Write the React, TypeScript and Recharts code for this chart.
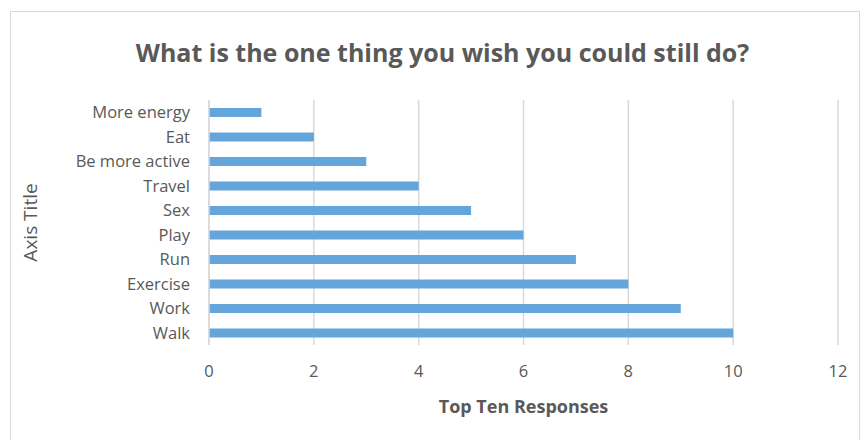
import { BarChart, Bar, XAxis, YAxis, CartesianGrid } from 'recharts';

// Responses, top to bottom as drawn
const responses = ['More energy', 'Eat', 'Be more active', 'Travel', 'Sex', 'Play', 'Run', 'Exercise', 'Work', 'Walk'];
const counts = [1, 2, 3, 4, 5, 6, 7, 8, 9, 10];
const xTicks = [0, 2, 4, 6, 8, 10, 12];

const data = responses.map((name, i) => ({ name, value: counts[i] }));

const FONT = '"Open Sans", "Noto Sans", sans-serif';
const TEXT = '#595959';

export default function App() {
  return (
    <div style={{ position: 'absolute', left: 0, top: 0, width: 863, height: 440, background: '#fff', fontFamily: FONT }}>
      {/* chart frame */}
      <div
        style={{
          position: 'absolute',
          left: 10,
          top: 11,
          width: 850,
          height: 440,
          border: '1.5px solid #d9d9d9',
          boxSizing: 'border-box',
        }}
      />
      <div
        style={{
          position: 'absolute',
          left: 11,
          top: 32,
          width: 863,
          textAlign: 'center',
          fontSize: 25,
          fontWeight: 700,
          color: TEXT,
          lineHeight: '40px',
        }}
      >
        What is the one thing you wish you could still do?
      </div>
      <div style={{ position: 'absolute', left: 0, top: 0 }}>
        <BarChart
          width={863}
          height={440}
          data={data}
          layout="vertical"
          margin={{ top: 100, right: 25, left: 0, bottom: 0 }}
          barCategoryGap={0}
        >
          <CartesianGrid horizontal={false} stroke="#d9d9d9" strokeWidth={1.5} />
          <XAxis
            type="number"
            domain={[0, 12]}
            ticks={xTicks}
            height={95}
            axisLine={false}
            tickLine={false}
            tickMargin={14}
            tick={{ fill: TEXT, fontSize: 16.5, fontFamily: FONT }}
            label={{
              value: 'Top Ten Responses',
              position: 'insideBottom',
              offset: 27,
              fill: TEXT,
              fontSize: 18,
              fontWeight: 700,
              fontFamily: FONT,
            }}
          />
          <YAxis
            type="category"
            dataKey="name"
            width={209}
            axisLine={{ stroke: '#d9d9d9', strokeWidth: 1.5 }}
            tickLine={false}
            tickMargin={13}
            interval={0}
            tick={{ fill: TEXT, fontSize: 16.5, fontFamily: FONT }}
            label={{
              value: 'Axis Title',
              angle: -90,
              position: 'insideLeft',
              offset: 30,
              fill: TEXT,
              fontSize: 19,
              fontFamily: FONT,
              style: { textAnchor: 'middle' },
            }}
          />
          <Bar dataKey="value" fill="#64A5DC" barSize={9} isAnimationActive={false} />
        </BarChart>
      </div>
    </div>
  );
}
